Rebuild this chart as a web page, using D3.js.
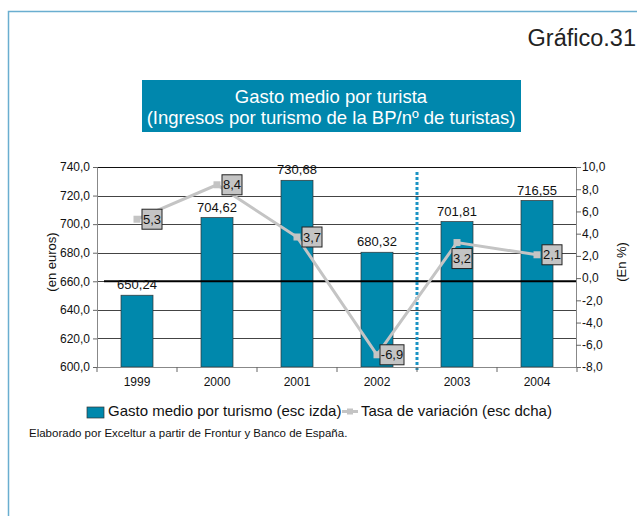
<!DOCTYPE html>
<html>
<head>
<meta charset="utf-8">
<script src="https://cdn.jsdelivr.net/npm/d3@7/dist/d3.min.js"></script>
<style>
  body { margin: 0; background: #fff; }
  svg { display: block; font-family: "Liberation Sans", Arial, sans-serif; }
</style>
</head>
<body>
<div id="chart"></div>
<script>
const years = ["1999", "2000", "2001", "2002", "2003", "2004"];
const gastoMedio = [650.24, 704.62, 730.68, 680.32, 701.81, 716.55];
const tasaVariacion = [5.3, 8.4, 3.7, -6.9, 3.2, 2.1];
const leftTicks = [600, 620, 640, 660, 680, 700, 720, 740];
const rightTicks = [-8, -6, -4, -2, 0, 2, 4, 6, 8, 10];

const width = 637, height = 516;
const fmt = (d, n) => d.toFixed(n).replace(".", ",");

const svg = d3.select("#chart").append("svg")
  .attr("width", width).attr("height", height);

// frame
svg.append("path")
  .attr("d", `M8.5,${height} V11.5 H${width}`)
  .attr("fill", "none").attr("stroke", "#6aaed0").attr("stroke-width", 1.5);

svg.append("text")
  .attr("x", 636).attr("y", 46)
  .attr("text-anchor", "end")
  .attr("font-size", 23.5).attr("fill", "#222")
  .text("Gráfico.31");

// title box
svg.append("rect")
  .attr("x", 142).attr("y", 80).attr("width", 379).attr("height", 52)
  .attr("fill", "#0087ad");
svg.append("text")
  .attr("x", 331).attr("y", 103).attr("text-anchor", "middle")
  .attr("font-size", 18.5).attr("fill", "#fff")
  .text("Gasto medio por turista");
svg.append("text")
  .attr("x", 331).attr("y", 124).attr("text-anchor", "middle")
  .attr("font-size", 18.5).attr("fill", "#fff")
  .text("(Ingresos por turismo de la BP/nº de turistas)");

// ---------------- scales ----------------
const x0 = 97, x1 = 577, yTop = 167, yBot = 367;
const x = d3.scaleBand().domain(years).range([x0, x1]).paddingInner(0.6).paddingOuter(0.3);
const band = d3.scaleBand().domain(years).range([x0, x1]);
const yL = d3.scaleLinear().domain([600, 740]).range([yBot, yTop]);
const yR = d3.scaleLinear().domain([-8, 10]).range([yBot, yTop]);

// gridlines
svg.append("g").selectAll("line")
  .data(leftTicks.filter(d => d > 600))
  .join("line")
  .attr("x1", x0).attr("x2", x1)
  .attr("y1", d => Math.round(yL(d)) + 0.5).attr("y2", d => Math.round(yL(d)) + 0.5)
  .attr("stroke", d => d === 740 ? "#111" : "#444").attr("stroke-width", 1);

// bars
svg.append("g").selectAll("rect")
  .data(gastoMedio)
  .join("rect")
  .attr("x", (d, i) => x(years[i]))
  .attr("y", d => yL(d))
  .attr("width", x.bandwidth())
  .attr("height", d => yBot - yL(d))
  .attr("fill", "#0088ac")
  .attr("stroke", "#333").attr("stroke-width", 0.7);

// thick reference line
svg.append("line")
  .attr("x1", x0 + 7).attr("x2", x1)
  .attr("y1", yL(660)).attr("y2", yL(660))
  .attr("stroke", "#000").attr("stroke-width", 2);

// bar labels
svg.append("g").selectAll("text")
  .data(gastoMedio)
  .join("text")
  .attr("x", (d, i) => band(years[i]) + band.bandwidth() / 2)
  .attr("y", d => yL(d) - 6)
  .attr("text-anchor", "middle")
  .attr("font-size", 13).attr("fill", "#111")
  .text(d => fmt(d, 2));

// dotted separator between 2002 and 2003
svg.append("line")
  .attr("x1", band("2003")).attr("x2", band("2003"))
  .attr("y1", 172).attr("y2", 372)
  .attr("stroke", "#1a93c4").attr("stroke-width", 3)
  .attr("stroke-dasharray", "3,2");

// axes
const axisL = d3.axisLeft(yL).tickValues(leftTicks).tickSize(4).tickFormat(d => fmt(d, 1));
const gL = svg.append("g").attr("transform", `translate(${x0},0)`).call(axisL);
const axisR = d3.axisRight(yR).tickValues(rightTicks).tickSize(5).tickPadding(1).tickFormat(d => fmt(d, 1));
const gR = svg.append("g").attr("transform", `translate(${x1 - 1},0)`).call(axisR);
const axisB = d3.axisBottom(band).tickSize(0).tickPadding(15);
const gB = svg.append("g").attr("transform", `translate(0,${yBot})`).call(axisB);

[gL, gR, gB].forEach(g => {
  g.select(".domain").attr("stroke", "#888");
  g.selectAll(".tick line").attr("stroke", "#666");
  g.selectAll("text").attr("font-size", 12).attr("fill", "#111")
    .attr("font-family", "Liberation Sans, Arial, sans-serif");
});
gB.select(".domain").attr("d", `M${x0},0.5H${x1}`);
gB.selectAll(".tick text").attr("dy", "0.3em");
// category separator ticks
gB.append("g").selectAll("line")
  .data(years.concat(["end"]))
  .join("line")
  .attr("x1", (d, i) => x0 + i * band.bandwidth())
  .attr("x2", (d, i) => x0 + i * band.bandwidth())
  .attr("y1", 0).attr("y2", 5)
  .attr("stroke", "#666");

// axis titles
svg.append("text")
  .attr("transform", "translate(56,262) rotate(-90)")
  .attr("text-anchor", "middle").attr("font-size", 13).attr("fill", "#111")
  .text("(en euros)");
svg.append("text")
  .attr("transform", "translate(626,262) rotate(-90)")
  .attr("text-anchor", "middle").attr("font-size", 13).attr("fill", "#111")
  .text("(En %)");

// ---------------- variation line ----------------
const line = d3.line()
  .x((d, i) => band(years[i]) + band.bandwidth() / 2)
  .y(d => yR(d));

svg.append("path")
  .datum(tasaVariacion)
  .attr("d", line)
  .attr("fill", "none").attr("stroke", "#c4c4c4").attr("stroke-width", 3);

svg.append("g").selectAll("rect")
  .data(tasaVariacion)
  .join("rect")
  .attr("x", (d, i) => band(years[i]) + band.bandwidth() / 2 - 3.5)
  .attr("y", d => yR(d) - 3.5)
  .attr("width", 7).attr("height", 7)
  .attr("fill", "#c4c4c4");

// value boxes: right of the point, except 2003 which sits below it
const boxes = svg.append("g").selectAll("g")
  .data(tasaVariacion)
  .join("g")
  .attr("transform", (d, i) => {
    const cx = band(years[i]) + band.bandwidth() / 2;
    const cy = yR(d);
    return i === 4 ? `translate(${cx + 5},${cy + 16})` : `translate(${cx + 15},${cy})`;
  });
boxes.append("rect")
  .attr("x", d => d < 0 ? -12 : -10).attr("y", -10)
  .attr("width", d => d < 0 ? 24 : 20).attr("height", 20)
  .attr("fill", "#c4c4c4").attr("stroke", "#222").attr("stroke-width", 1);
boxes.append("text")
  .attr("text-anchor", "middle").attr("dy", "0.36em")
  .attr("font-size", 13).attr("fill", "#111")
  .text(d => fmt(d, 1));

// ---------------- legend ----------------
const lg = svg.append("g").attr("transform", "translate(0,410)");
lg.append("rect").attr("x", 87).attr("y", -3).attr("width", 17).attr("height", 11)
  .attr("fill", "#0088ac").attr("stroke", "#333").attr("stroke-width", 0.7);
lg.append("text").attr("x", 108).attr("y", 6).attr("font-size", 15).attr("fill", "#111")
  .text("Gasto medio por turismo (esc izda)");
lg.append("line").attr("x1", 342).attr("x2", 358).attr("y1", 1.5).attr("y2", 1.5)
  .attr("stroke", "#c4c4c4").attr("stroke-width", 3);
lg.append("rect").attr("x", 347).attr("y", -1.5).attr("width", 6).attr("height", 6)
  .attr("fill", "#c4c4c4");
lg.append("text").attr("x", 361).attr("y", 6).attr("font-size", 15).attr("fill", "#111")
  .text("Tasa de variación (esc dcha)");

svg.append("text")
  .attr("x", 29).attr("y", 437).attr("font-size", 11.5).attr("fill", "#111")
  .text("Elaborado por Exceltur a partir de  Frontur y Banco de España.");
</script>
</body>
</html>
